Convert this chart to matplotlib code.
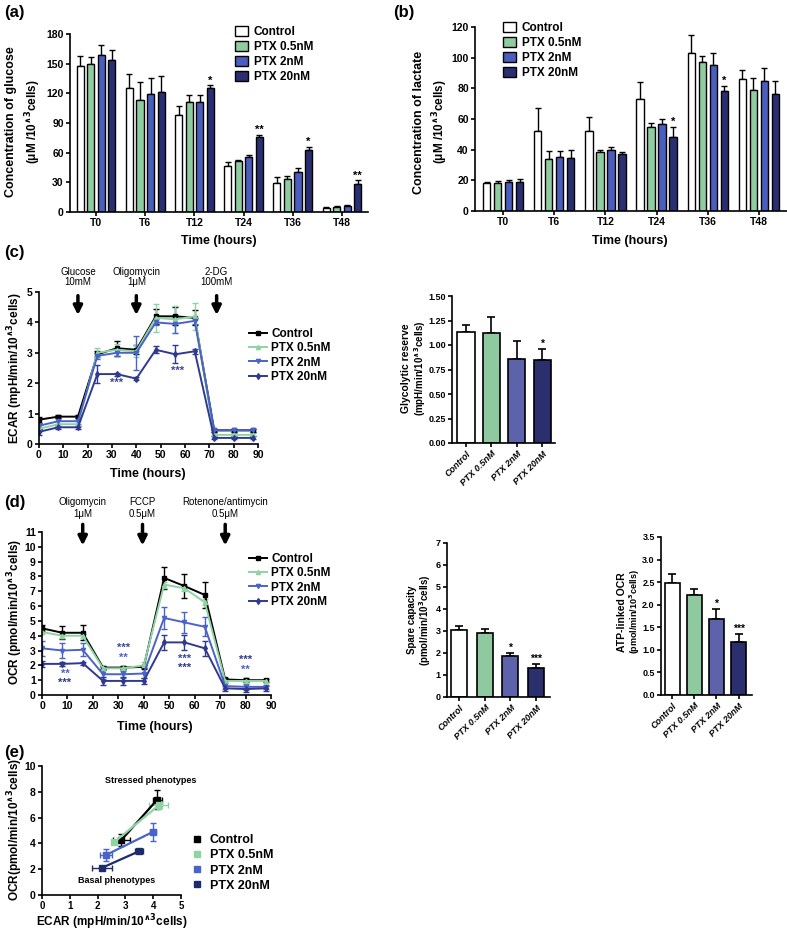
import numpy as np
import matplotlib
matplotlib.use('Agg')
import matplotlib.pyplot as plt
from matplotlib.lines import Line2D
from matplotlib.patches import Patch

plt.rcParams['font.family'] = ['Liberation Sans', 'DejaVu Sans']
plt.rcParams['font.weight'] = 'bold'
plt.rcParams['axes.labelweight'] = 'bold'
plt.rcParams['mathtext.default'] = 'bf'
plt.rcParams['axes.linewidth'] = 1.2

# ---- data ----
groups = ['Control', 'PTX 0.5nM', 'PTX 2nM', 'PTX 20nM']
time_points = ['T0', 'T6', 'T12', 'T24', 'T36', 'T48']

glucose = [[148, 125, 98, 47, 29, 4],
           [150, 113, 111, 52, 33, 5],
           [159, 119, 111, 56, 40, 6],
           [154, 121, 125, 76, 63, 28]]
glucose_err = [[10, 15, 9, 4, 6, 1],
               [7, 18, 7, 1, 3, 1],
               [10, 16, 7, 2, 4, 1],
               [10, 17, 3, 2, 3, 4]]
glucose_stars = ['', '', '*', '**', '*', '**']

lactate = [[18, 52, 52, 73, 103, 86],
           [18.5, 34, 38.5, 55, 97, 79],
           [19, 35, 40, 57, 95, 85],
           [19, 34.5, 37, 48, 78, 76]]
lactate_err = [[1, 15, 9, 11, 12, 6],
               [1, 5, 1.5, 2.5, 4, 8],
               [1.5, 4, 2, 3, 8, 8],
               [2, 5, 1.5, 7, 3.5, 9]]
lactate_stars = ['', '', '', '*', '*', '']

seahorse_time = [0, 8, 16, 24, 32, 40, 48, 56, 64, 72, 80, 88]
ecar = [[0.8, 0.9, 0.9, 2.95, 3.15, 3.1, 4.2, 4.2, 4.15, 0.45, 0.45, 0.45],
        [0.5, 0.65, 0.65, 3.0, 3.1, 3.05, 4.15, 4.1, 4.2, 0.3, 0.3, 0.3],
        [0.6, 0.75, 0.75, 2.9, 3.0, 3.0, 4.0, 3.95, 4.05, 0.45, 0.45, 0.45],
        [0.4, 0.55, 0.55, 2.3, 2.3, 2.15, 3.1, 2.95, 3.05, 0.2, 0.2, 0.2]]
ecar_err = [[0.1, 0.05, 0.05, 0.1, 0.25, 0.15, 0.25, 0.3, 0.25, 0.05, 0.05, 0.05],
            [0.1, 0.1, 0.1, 0.15, 0.2, 0.2, 0.45, 0.45, 0.45, 0.05, 0.05, 0.05],
            [0.1, 0.1, 0.1, 0.1, 0.1, 0.55, 0.1, 0.3, 0.1, 0.05, 0.05, 0.05],
            [0.1, 0.05, 0.05, 0.3, 0.05, 0.05, 0.12, 0.3, 0.08, 0.05, 0.05, 0.05]]

ocr = [[4.5, 4.2, 4.2, 1.85, 1.85, 1.9, 7.9, 7.35, 6.75, 1.05, 1.0, 1.0],
       [4.25, 4.0, 4.0, 1.8, 1.8, 2.0, 7.45, 7.2, 6.25, 0.95, 0.95, 0.95],
       [3.15, 3.0, 3.05, 1.4, 1.4, 1.45, 5.2, 4.9, 4.6, 0.6, 0.55, 0.55],
       [2.1, 2.1, 2.15, 0.95, 0.95, 0.95, 3.55, 3.55, 3.15, 0.45, 0.4, 0.45]]
ocr_err = [[0.2, 0.45, 0.5, 0.1, 0.1, 0.1, 0.75, 0.8, 0.9, 0.1, 0.15, 0.1],
           [0.15, 0.15, 0.15, 0.1, 0.1, 0.2, 0.2, 0.2, 0.2, 0.1, 0.1, 0.1],
           [0.5, 0.5, 0.45, 0.3, 0.25, 0.3, 0.75, 0.7, 0.65, 0.2, 0.2, 0.15],
           [0.2, 0.15, 0.1, 0.25, 0.25, 0.2, 0.5, 0.5, 0.5, 0.15, 0.2, 0.15]]

glyco_reserve = [1.13, 1.12, 0.86, 0.85]
glyco_reserve_err = [0.07, 0.17, 0.18, 0.11]
glyco_stars = ['', '', '', '*']

spare_capacity = [3.05, 2.9, 1.85, 1.3]
spare_capacity_err = [0.2, 0.2, 0.15, 0.2]
spare_stars = ['', '', '*', '***']

atp_ocr = [2.47, 2.22, 1.68, 1.18]
atp_ocr_err = [0.2, 0.12, 0.22, 0.17]
atp_stars = ['', '', '*', '***']

# energy map: basal and stressed (ECAR, OCR)
map_ecar = [[2.85, 4.15], [2.6, 4.2], [2.3, 4.0], [2.15, 3.5]]
map_ecar_err = [[0.3, 0.15], [0.1, 0.35], [0.2, 0.1], [0.35, 0.15]]
map_ocr = [[4.25, 7.4], [4.1, 6.95], [3.1, 4.9], [2.1, 3.4]]
map_ocr_err = [[0.45, 0.75], [0.1, 0.3], [0.45, 0.7], [0.1, 0.1]]

bar_colors = ['white', '#8fcca0', '#4b5ebd', '#2a2f72']
small_bar_colors = ['white', '#8fc9a0', '#5c63aa', '#2c2f6e']
line_colors = ['black', '#8fd3a3', '#4a63c9', '#2f3a8e']
map_colors = ['black', '#8fd3a3', '#4a63c9', '#1f2a6a']
markers = ['s', '^', 'v', 'd']

W, H = 787, 932
fig = plt.figure(figsize=(W / 100, H / 100), dpi=100)


def px_axes(x0, y0, x1, y1):
    return fig.add_axes([x0 / W, 1 - y1 / H, (x1 - x0) / W, (y1 - y0) / H])


def ftext(x, y, s, **kw):
    kw.setdefault('fontweight', 'bold')
    fig.text(x / W, 1 - y / H, s, **kw)


def style(ax, size=7.5):
    for s in ['top', 'right']:
        ax.spines[s].set_visible(False)
    ax.tick_params(direction='out', length=3, width=1.2, labelsize=size, pad=1.5)


def grouped_bars(ax, means, errs, colors, stars):
    pitch, width = 0.215, 0.145
    x = np.arange(len(time_points))
    for i, (m, e, c) in enumerate(zip(means, errs, colors)):
        xs = x + (i - 1.5) * pitch
        ax.bar(xs, m, width, color=c, edgecolor='black', linewidth=1.0, zorder=2)
        ax.errorbar(xs, m, yerr=[np.zeros(len(e)), e], fmt='none', ecolor='black',
                    elinewidth=1.0, capsize=2, capthick=1.0, zorder=1)
    for xi, m, e, s in zip(x, means[3], errs[3], stars):
        if s:
            ax.text(xi + 1.5 * pitch, m + e, s, ha='center', va='bottom', fontsize=8)
    ax.set_xticks(x)
    ax.set_xticklabels(time_points)
    style(ax)


def single_bars(ax, means, errs, stars, width):
    x = np.arange(4)
    ax.bar(x, means, width, color=small_bar_colors, edgecolor='black', linewidth=1.2, zorder=2)
    ax.errorbar(x, means, yerr=[[0] * 4, errs], fmt='none', ecolor='black',
                elinewidth=1.2, capsize=3, capthick=1.2, zorder=1)
    for xi, m, e, s in zip(x, means, errs, stars):
        if s:
            ax.text(xi, m + e, s, ha='center', va='bottom', fontsize=7.5)
    ax.set_xticks(x)
    ax.set_xticklabels(groups, rotation=45, ha='right', rotation_mode='anchor',
                       fontstyle='italic', fontsize=7)
    style(ax, 6.5)


def seahorse(ax, means, errs):
    for m, e, c, mk in zip(means, errs, line_colors, markers):
        ax.errorbar(seahorse_time, m, yerr=e, color=c, marker=mk, ms=3, lw=1.4,
                    elinewidth=1.0, capsize=2, capthick=1.0)
    ax.set_xlim(0, 90)
    ax.set_xticks(range(0, 91, 10))
    style(ax)


def arrow(ax, x, top, tip, lines, y1, y2):
    ax.annotate('', xy=(x, tip), xytext=(x, top), annotation_clip=False,
                arrowprops=dict(arrowstyle='-|>', lw=2.5, color='black', mutation_scale=13))
    ax.text(x, y1, lines[0], ha='center', va='center', fontsize=7, fontweight='normal', clip_on=False)
    ax.text(x, y2, lines[1], ha='center', va='center', fontsize=7, fontweight='normal', clip_on=False)


line_handles = [Line2D([], [], color=c, marker=mk, ms=3, lw=1.4) for c, mk in zip(line_colors, markers)]
patch_handles = [Patch(facecolor=c, edgecolor='black', linewidth=1.0) for c in bar_colors]
legend_kw = dict(loc='upper left', frameon=False, borderpad=0)

# ---- (a) glucose ----
ax = px_axes(70, 34, 368, 212)
grouped_bars(ax, glucose, glucose_err, bar_colors, glucose_stars)
ax.set_ylim(0, 180)
ax.set_yticks(range(0, 181, 30))
ax.set_xlim(-0.53, 5.53)
fig.legend(patch_handles, groups, bbox_to_anchor=(229 / W, 1 - 20 / H), fontsize=8.5,
           handlelength=1.1, handleheight=1.0, labelspacing=0.22, handletextpad=0.5, **legend_kw)
ftext(11, 122, 'Concentration of glucose', rotation=90, ha='center', va='center', fontsize=9)
ftext(33, 122, r'(μM /10$^{\wedge 3}$cells)', rotation=90, ha='center', va='center', fontsize=8.5)
ftext(219, 241, 'Time (hours)', ha='center', va='center', fontsize=9)
ftext(4, 12, '(a)', ha='left', va='center', fontsize=12)

# ---- (b) lactate ----
ax = px_axes(475, 27, 787, 211)
grouped_bars(ax, lactate, lactate_err, bar_colors, lactate_stars)
ax.set_ylim(0, 120)
ax.set_yticks(range(0, 121, 20))
ax.set_xlim(-0.55, 5.55)
fig.legend(patch_handles, groups, bbox_to_anchor=(497 / W, 1 - 16 / H), fontsize=8.5,
           handlelength=1.1, handleheight=1.0, labelspacing=0.22, handletextpad=0.5, **legend_kw)
ftext(419, 122, 'Concentration of lactate', rotation=90, ha='center', va='center', fontsize=9)
ftext(440, 122, r'(μM /10$^{\wedge 3}$cells)', rotation=90, ha='center', va='center', fontsize=8.5)
ftext(630, 241, 'Time (hours)', ha='center', va='center', fontsize=9)
ftext(393, 12, '(b)', ha='left', va='center', fontsize=12)

# ---- (c) ECAR ----
ax = px_axes(39, 292, 258, 444)
seahorse(ax, ecar, ecar_err)
ax.set_ylim(0, 5)
ax.set_yticks(range(0, 6))
arrow(ax, 16, 4.97, 4.15, ['Glucose', '10mM'], 5.65, 5.32)
arrow(ax, 40, 4.97, 4.15, ['Oligomycin', '1μM'], 5.65, 5.32)
arrow(ax, 73, 4.97, 4.15, ['2-DG', '100mM'], 5.65, 5.32)
ax.text(32, 2.0, '***', color='#3b4a9e', ha='center', va='center', fontsize=8)
ax.text(57, 2.4, '***', color='#3b4a9e', ha='center', va='center', fontsize=8)
fig.legend(line_handles, groups, bbox_to_anchor=(243 / W, 1 - 322 / H), fontsize=8.5,
           handlelength=1.5, labelspacing=0.2, handletextpad=0.4, **legend_kw)
ftext(15, 368, r'ECAR (mpH/min/10$^{\wedge 3}$cells)', rotation=90, ha='center', va='center', fontsize=8.5)
ftext(148, 474, 'Time (hours)', ha='center', va='center', fontsize=9)
ftext(4, 253, '(c)', ha='left', va='center', fontsize=12)

# ---- (c) glycolytic reserve ----
ax = px_axes(452, 296, 555, 443)
single_bars(ax, glyco_reserve, glyco_reserve_err, glyco_stars, 0.67)
ax.set_ylim(0, 1.5)
ax.set_yticks(np.arange(0, 1.51, 0.25))
ax.set_yticklabels(['%.2f' % v for v in np.arange(0, 1.51, 0.25)])
ax.set_xlim(-0.55, 3.5)
ftext(406, 368, 'Glycolytic reserve', rotation=90, ha='center', va='center', fontsize=7.5)
ftext(420, 368, r'(mpH/min/10$^{\wedge 3}$cells)', rotation=90, ha='center', va='center', fontsize=7)

# ---- (d) OCR ----
ax = px_axes(42, 532, 271, 695)
seahorse(ax, ocr, ocr_err)
ax.set_ylim(0, 11)
ax.set_yticks(range(0, 12))
arrow(ax, 16, 11.7, 9.9, ['Oligomycin', '1μM'], 13.0, 12.2)
arrow(ax, 39.5, 11.7, 9.9, ['FCCP', '0.5μM'], 13.0, 12.2)
arrow(ax, 72, 11.7, 9.9, ['Rotenone/antimycin', '0.5μM'], 13.0, 12.2)
ocr_star_time = [9, 9, 32, 32, 56, 56, 80, 80]
ocr_star_y = [1.45, 0.8, 3.2, 2.5, 2.45, 1.8, 2.35, 1.7]
ocr_star_text = ['**', '***', '***', '**', '***', '***', '***', '**']
ocr_star_color = ['#4a63c9', '#2f3a8e', '#3b4a9e', '#4a63c9', '#3b4a9e', '#2f3a8e', '#2f3a8e', '#4a63c9']
for t, y, s, c in zip(ocr_star_time, ocr_star_y, ocr_star_text, ocr_star_color):
    ax.text(t, y, s, color=c, ha='center', va='center', fontsize=8)
fig.legend(line_handles, groups, bbox_to_anchor=(243 / W, 1 - 547 / H), fontsize=8.5,
           handlelength=1.5, labelspacing=0.2, handletextpad=0.4, **legend_kw)
ftext(15, 612, r'OCR (pmol/min/10$^{\wedge 3}$cells)', rotation=90, ha='center', va='center', fontsize=8.5)
ftext(155, 727, 'Time (hours)', ha='center', va='center', fontsize=9)
ftext(4, 502, '(d)', ha='left', va='center', fontsize=12)

# ---- (d) spare capacity ----
ax = px_axes(447, 543, 550, 697)
single_bars(ax, spare_capacity, spare_capacity_err, spare_stars, 0.62)
ax.set_ylim(0, 7)
ax.set_yticks(range(0, 8))
ax.set_xlim(-0.47, 3.54)
ftext(412, 620, 'Spare capacity', rotation=90, ha='center', va='center', fontsize=7)
ftext(425, 620, r'(pmol/min/10$^3$cells)', rotation=90, ha='center', va='center', fontsize=7)

# ---- (d) ATP-linked OCR ----
ax = px_axes(661, 537, 752, 695)
single_bars(ax, atp_ocr, atp_ocr_err, atp_stars, 0.68)
ax.set_ylim(0, 3.5)
ax.set_yticks(np.arange(0, 3.51, 0.5))
ax.set_yticklabels(['%.1f' % v for v in np.arange(0, 3.51, 0.5)])
ax.set_xlim(-0.5, 3.6)
ftext(622, 612, 'ATP-linked OCR', rotation=90, ha='center', va='center', fontsize=7.5)
ftext(635, 612, r'(pmol/min/10$^3$cells)', rotation=90, ha='center', va='center', fontsize=6.5)

# ---- (e) energy map ----
ax = px_axes(42, 766, 181, 895)
for xs, xe, ys, ye, c in zip(map_ecar, map_ecar_err, map_ocr, map_ocr_err, map_colors):
    ax.errorbar(xs, ys, xerr=xe, yerr=ye, color=c, marker='s', ms=5, lw=1.6,
                elinewidth=1.0, capsize=2, capthick=1.0)
ax.set_xlim(0, 5)
ax.set_ylim(0, 10)
ax.set_xticks(range(0, 6))
ax.set_yticks(range(0, 11, 2))
style(ax)
ax.tick_params(axis='x', pad=1, labelsize=7)
ax.text(3.9, 8.9, 'Stressed phenotypes', ha='center', va='center', fontsize=6.5, clip_on=False)
ax.text(2.7, 1.15, 'Basal phenotypes', ha='center', va='center', fontsize=6.5)
map_handles = [Line2D([], [], color=c, marker='s', ls='', ms=5) for c in map_colors]
fig.legend(map_handles, groups, bbox_to_anchor=(186 / W, 1 - 828 / H), fontsize=9,
           handlelength=0.8, labelspacing=0.25, handletextpad=0.6, **legend_kw)
ftext(15, 830, r'OCR(pmol/min/10$^{\wedge 3}$cells)', rotation=90, ha='center', va='center', fontsize=8.5)
ftext(112, 922, r'ECAR (mpH/min/10$^{\wedge 3}$cells)', ha='center', va='center', fontsize=8.5)
ftext(4, 752, '(e)', ha='left', va='center', fontsize=12)

fig.savefig('out.png', dpi=100)
